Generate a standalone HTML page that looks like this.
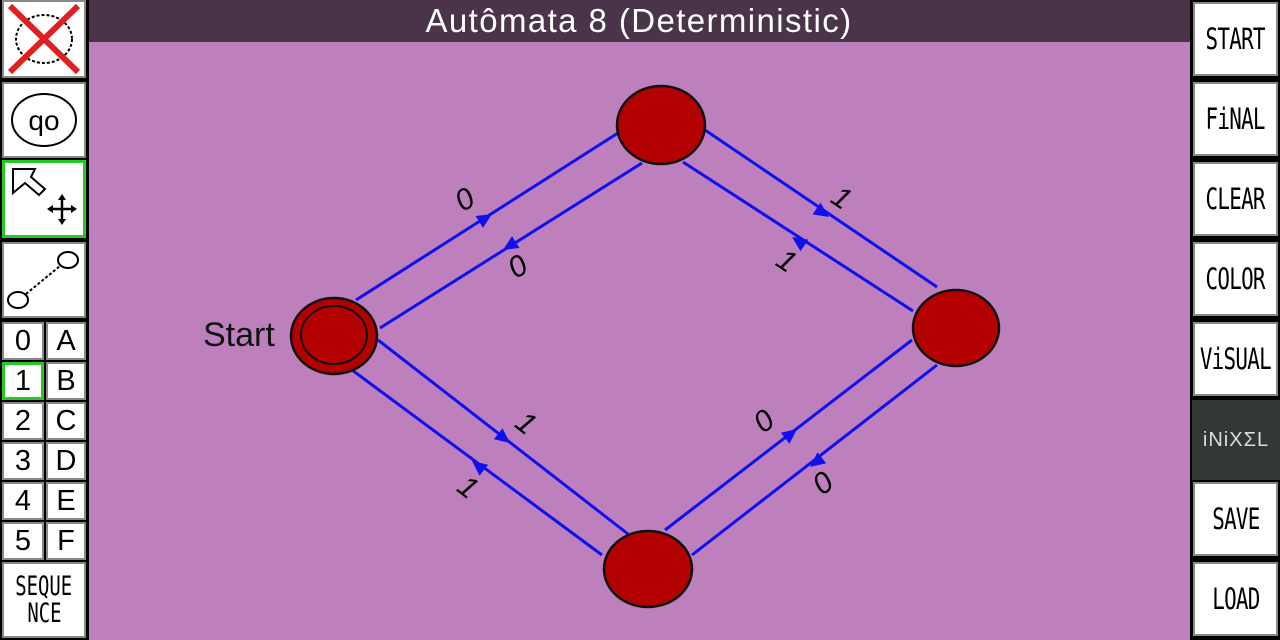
<!DOCTYPE html>
<html><head><meta charset="utf-8"><style>
body{margin:0;width:1280px;height:640px;overflow:hidden;background:#bd80bd;font-family:"Liberation Sans",sans-serif;position:relative}
.abs{position:absolute;box-sizing:border-box}
.lp{left:0;top:0;width:89px;height:640px;background:#000}
.rp{left:1190px;top:0;width:90px;height:640px;background:#000}
.b{background:#fff;border:2px solid #888;display:flex;align-items:center;justify-content:center;color:#000}
.rb{font-family:"DejaVu Sans Mono",monospace;font-size:29px;letter-spacing:-1px;transform:scaleX(0.72);}
.g{font-size:29px}
</style></head><body>
<div class="abs" style="left:88px;top:0;width:1102px;height:42px;background:#4a344a;color:#fff;font-size:33px;letter-spacing:1.4px;text-align:center;line-height:42px">Autômata 8 (Deterministic)</div>
<div class="abs lp"></div>
<div class="abs rp"></div>
<div class="abs b" style="left:2px;top:0;width:84px;height:78px"><svg width="80" height="74"><ellipse cx="40" cy="37" rx="28" ry="24" fill="none" stroke="#000" stroke-dasharray="3 2" stroke-width="2"/><line x1="6" y1="4" x2="74" y2="70" stroke="#e02020" stroke-width="6"/><line x1="74" y1="4" x2="6" y2="70" stroke="#e02020" stroke-width="6"/></svg></div>
<div class="abs b" style="left:2px;top:82px;width:84px;height:76px"><svg width="80" height="72"><ellipse cx="40" cy="36" rx="32" ry="26" fill="none" stroke="#000" stroke-width="2"/><text x="40" y="46" font-size="28" text-anchor="middle" font-family="Liberation Sans">qo</text></svg></div>
<div class="abs b" style="left:2px;top:160px;width:84px;height:78px;border:3px solid #22cc22"><svg width="78" height="72"><path d="M8 6 L30 6 L26 14 L40 26 L34 32 L20 20 L8 30 Z" fill="none" stroke="#000" stroke-width="2"/><path d="M44 46 H70 M57 33 V60" stroke="#000" stroke-width="2.5"/><path d="M42 46 l6 -4 v8z M72 46 l-6 -4 v8z M57 31 l-4 6 h8z M57 62 l-4 -6 h8z" fill="#000"/></svg></div>
<div class="abs b" style="left:2px;top:242px;width:84px;height:76px"><svg width="80" height="72"><ellipse cx="14" cy="56" rx="10" ry="8" fill="none" stroke="#000" stroke-width="2"/><ellipse cx="64" cy="16" rx="10" ry="8" fill="none" stroke="#000" stroke-width="2"/><line x1="22" y1="50" x2="56" y2="22" stroke="#000" stroke-width="2" stroke-dasharray="3 2"/></svg></div>
<div class="abs b g" style="left:2px;top:322px;width:42px;height:38px">0</div><div class="abs b g" style="left:46px;top:322px;width:40px;height:38px">A</div>
<div class="abs b g" style="left:2px;top:362px;width:42px;height:38px;border:3px solid #22cc22">1</div><div class="abs b g" style="left:46px;top:362px;width:40px;height:38px">B</div>
<div class="abs b g" style="left:2px;top:402px;width:42px;height:38px">2</div><div class="abs b g" style="left:46px;top:402px;width:40px;height:38px">C</div>
<div class="abs b g" style="left:2px;top:442px;width:42px;height:38px">3</div><div class="abs b g" style="left:46px;top:442px;width:40px;height:38px">D</div>
<div class="abs b g" style="left:2px;top:482px;width:42px;height:38px">4</div><div class="abs b g" style="left:46px;top:482px;width:40px;height:38px">E</div>
<div class="abs b g" style="left:2px;top:522px;width:42px;height:38px">5</div><div class="abs b g" style="left:46px;top:522px;width:40px;height:38px">F</div>
<div class="abs b" style="left:2px;top:562px;width:84px;height:76px;flex-direction:column;font-family:'DejaVu Sans Mono',monospace;font-size:27px;line-height:27px"><span style="transform:scaleX(0.7)">SEQUE</span><span style="transform:scaleX(0.7)">NCE</span></div>
<div class="abs b" style="left:1193px;top:2px;width:85px;height:74px"><span class="rb">START</span></div>
<div class="abs b" style="left:1193px;top:82px;width:85px;height:74px"><span class="rb">FiNAL</span></div>
<div class="abs b" style="left:1193px;top:162px;width:85px;height:74px"><span class="rb">CLEAR</span></div>
<div class="abs b" style="left:1193px;top:242px;width:85px;height:74px"><span class="rb">COLOR</span></div>
<div class="abs b" style="left:1193px;top:322px;width:85px;height:74px"><span class="rb">ViSUAL</span></div>
<div class="abs" style="left:1192px;top:400px;width:88px;height:80px;background:#333835;color:#ddd;display:flex;align-items:center;justify-content:center;font-size:20px;letter-spacing:1px">iNiXΣL</div>
<div class="abs b" style="left:1193px;top:482px;width:85px;height:74px"><span class="rb">SAVE</span></div>
<div class="abs b" style="left:1193px;top:562px;width:85px;height:74px"><span class="rb">LOAD</span></div>
<svg class="abs" style="left:0;top:0" width="1280" height="640">
<g stroke="#1010ee" stroke-width="3">
<line x1="356" y1="300" x2="618" y2="133"/><line x1="380" y1="328" x2="642" y2="163"/>
<line x1="705" y1="130" x2="937" y2="287"/><line x1="683" y1="162" x2="913" y2="311"/>
<line x1="378" y1="340" x2="628" y2="534"/><line x1="352" y1="370" x2="602" y2="555"/>
<line x1="665" y1="530" x2="912" y2="340"/><line x1="692" y1="555" x2="937" y2="365"/>
</g>
<g fill="#1010ee">
<polygon points="0,0 -15,-7 -15,7" transform="translate(492,214) rotate(-32)"/>
<polygon points="0,0 -15,-7 -15,7" transform="translate(503,250) rotate(148)"/>
<polygon points="0,0 -15,-7 -15,7" transform="translate(829,217) rotate(34)"/>
<polygon points="0,0 -15,-7 -15,7" transform="translate(792,237) rotate(214)"/>
<polygon points="0,0 -15,-7 -15,7" transform="translate(510,443) rotate(38)"/>
<polygon points="0,0 -15,-7 -15,7" transform="translate(472,461) rotate(218)"/>
<polygon points="0,0 -15,-7 -15,7" transform="translate(797,429) rotate(-38)"/>
<polygon points="0,0 -15,-7 -15,7" transform="translate(810,467) rotate(142)"/>
</g>
<g font-size="30" font-style="italic" fill="#000" text-anchor="middle" font-family="Liberation Sans">
<text transform="translate(470,208) rotate(-32)">0</text>
<text transform="translate(523,275) rotate(-32)">0</text>
<text transform="translate(836,206) rotate(34)">1</text>
<text transform="translate(781,269) rotate(34)">1</text>
<text transform="translate(520,431) rotate(38)">1</text>
<text transform="translate(462,495) rotate(38)">1</text>
<text transform="translate(770,429) rotate(-38)">0</text>
<text transform="translate(829,491) rotate(-38)">0</text>
</g>
<g fill="#b30000" stroke="#111" stroke-width="2.5">
<ellipse cx="661" cy="125" rx="44" ry="39"/>
<ellipse cx="334" cy="336" rx="43" ry="38"/>
<ellipse cx="334" cy="335" rx="33" ry="29" fill="none" stroke-width="2"/>
<ellipse cx="956" cy="328" rx="43" ry="38"/>
<ellipse cx="648" cy="569" rx="44" ry="38"/>
</g>
<text x="203" y="346" font-size="34" fill="#111" font-family="Liberation Sans">Start</text>
</svg>
</body></html>
